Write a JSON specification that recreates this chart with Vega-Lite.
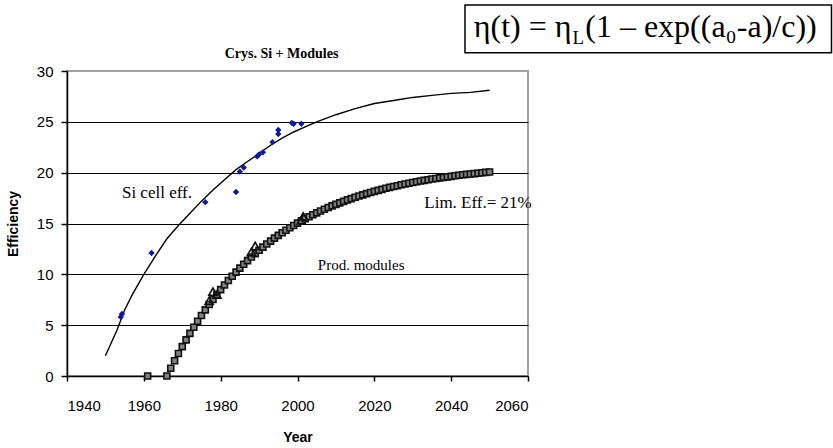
{
  "$schema": "https://vega.github.io/schema/vega-lite/v6.json",
  "width": 461,
  "height": 305,
  "autosize": {"type": "none"},
  "padding": {"left": 67, "top": 71, "right": 305, "bottom": 72},
  "background": "white",
  "config": {"view": {"stroke": "#a0a0a0", "strokeWidth": 2}, "font": "Liberation Sans"},
  "title": {"text": "Crys. Si + Modules", "font": "Liberation Serif", "fontSize": 14, "fontWeight": "bold", "color": "black", "offset": -56.5, "dx": -16},
  "datasets": {
    "main": [
      {"series": "fit", "year": 1950, "eff": 2.0},
      {"series": "fit", "year": 1953, "eff": 4.5},
      {"series": "fit", "year": 1955, "eff": 6.5},
      {"series": "fit", "year": 1957, "eff": 8.0},
      {"series": "fit", "year": 1960, "eff": 10.0},
      {"series": "fit", "year": 1963, "eff": 11.8},
      {"series": "fit", "year": 1966, "eff": 13.5},
      {"series": "fit", "year": 1969, "eff": 14.8},
      {"series": "fit", "year": 1972, "eff": 16.0},
      {"series": "fit", "year": 1975, "eff": 17.2},
      {"series": "fit", "year": 1978, "eff": 18.3},
      {"series": "fit", "year": 1981, "eff": 19.3},
      {"series": "fit", "year": 1984, "eff": 20.3},
      {"series": "fit", "year": 1987, "eff": 21.1},
      {"series": "fit", "year": 1990, "eff": 21.9},
      {"series": "fit", "year": 1993, "eff": 22.7},
      {"series": "fit", "year": 1996, "eff": 23.4},
      {"series": "fit", "year": 1999, "eff": 24.0},
      {"series": "fit", "year": 2002, "eff": 24.5},
      {"series": "fit", "year": 2005, "eff": 25.0},
      {"series": "fit", "year": 2010, "eff": 25.7},
      {"series": "fit", "year": 2015, "eff": 26.3},
      {"series": "fit", "year": 2020, "eff": 26.8},
      {"series": "fit", "year": 2025, "eff": 27.1},
      {"series": "fit", "year": 2030, "eff": 27.4},
      {"series": "fit", "year": 2035, "eff": 27.6},
      {"series": "fit", "year": 2040, "eff": 27.8},
      {"series": "fit", "year": 2045, "eff": 27.9},
      {"series": "fit", "year": 2050, "eff": 28.1},
      {"series": "cell", "year": 1954, "eff": 5.8},
      {"series": "cell", "year": 1954.3, "eff": 6.1},
      {"series": "cell", "year": 1962, "eff": 12.1},
      {"series": "cell", "year": 1976, "eff": 17.1},
      {"series": "cell", "year": 1984, "eff": 18.1},
      {"series": "cell", "year": 1985, "eff": 20.1},
      {"series": "cell", "year": 1986, "eff": 20.5},
      {"series": "cell", "year": 1989.5, "eff": 21.6},
      {"series": "cell", "year": 1990, "eff": 21.8},
      {"series": "cell", "year": 1991, "eff": 22.0},
      {"series": "cell", "year": 1993.5, "eff": 23.0},
      {"series": "cell", "year": 1995, "eff": 23.8},
      {"series": "cell", "year": 1995, "eff": 24.2},
      {"series": "cell", "year": 1998.5, "eff": 24.9},
      {"series": "cell", "year": 1999, "eff": 24.8},
      {"series": "cell", "year": 2001, "eff": 24.8},
      {"series": "mod", "year": 1961, "eff": 0},
      {"series": "mod", "year": 1966, "eff": 0},
      {"series": "mod", "year": 1967, "eff": 0.76},
      {"series": "mod", "year": 1968, "eff": 1.50},
      {"series": "mod", "year": 1969, "eff": 2.21},
      {"series": "mod", "year": 1970, "eff": 2.89},
      {"series": "mod", "year": 1971, "eff": 3.55},
      {"series": "mod", "year": 1972, "eff": 4.19},
      {"series": "mod", "year": 1973, "eff": 4.80},
      {"series": "mod", "year": 1974, "eff": 5.39},
      {"series": "mod", "year": 1975, "eff": 5.95},
      {"series": "mod", "year": 1976, "eff": 6.50},
      {"series": "mod", "year": 1977, "eff": 7.03},
      {"series": "mod", "year": 1978, "eff": 7.53},
      {"series": "mod", "year": 1979, "eff": 8.02},
      {"series": "mod", "year": 1980, "eff": 8.50},
      {"series": "mod", "year": 1981, "eff": 8.95},
      {"series": "mod", "year": 1982, "eff": 9.39},
      {"series": "mod", "year": 1983, "eff": 9.81},
      {"series": "mod", "year": 1984, "eff": 10.22},
      {"series": "mod", "year": 1985, "eff": 10.61},
      {"series": "mod", "year": 1986, "eff": 10.99},
      {"series": "mod", "year": 1987, "eff": 11.35},
      {"series": "mod", "year": 1988, "eff": 11.70},
      {"series": "mod", "year": 1989, "eff": 12.04},
      {"series": "mod", "year": 1990, "eff": 12.37},
      {"series": "mod", "year": 1991, "eff": 12.68},
      {"series": "mod", "year": 1992, "eff": 12.98},
      {"series": "mod", "year": 1993, "eff": 13.27},
      {"series": "mod", "year": 1994, "eff": 13.56},
      {"series": "mod", "year": 1995, "eff": 13.83},
      {"series": "mod", "year": 1996, "eff": 14.09},
      {"series": "mod", "year": 1997, "eff": 14.34},
      {"series": "mod", "year": 1998, "eff": 14.58},
      {"series": "mod", "year": 1999, "eff": 14.81},
      {"series": "mod", "year": 2000, "eff": 15.04},
      {"series": "mod", "year": 2001, "eff": 15.26},
      {"series": "mod", "year": 2002, "eff": 15.46},
      {"series": "mod", "year": 2003, "eff": 15.67},
      {"series": "mod", "year": 2004, "eff": 15.86},
      {"series": "mod", "year": 2005, "eff": 16.05},
      {"series": "mod", "year": 2006, "eff": 16.23},
      {"series": "mod", "year": 2007, "eff": 16.40},
      {"series": "mod", "year": 2008, "eff": 16.57},
      {"series": "mod", "year": 2009, "eff": 16.73},
      {"series": "mod", "year": 2010, "eff": 16.88},
      {"series": "mod", "year": 2011, "eff": 17.03},
      {"series": "mod", "year": 2012, "eff": 17.18},
      {"series": "mod", "year": 2013, "eff": 17.32},
      {"series": "mod", "year": 2014, "eff": 17.45},
      {"series": "mod", "year": 2015, "eff": 17.58},
      {"series": "mod", "year": 2016, "eff": 17.70},
      {"series": "mod", "year": 2017, "eff": 17.82},
      {"series": "mod", "year": 2018, "eff": 17.94},
      {"series": "mod", "year": 2019, "eff": 18.05},
      {"series": "mod", "year": 2020, "eff": 18.16},
      {"series": "mod", "year": 2021, "eff": 18.26},
      {"series": "mod", "year": 2022, "eff": 18.36},
      {"series": "mod", "year": 2023, "eff": 18.46},
      {"series": "mod", "year": 2024, "eff": 18.55},
      {"series": "mod", "year": 2025, "eff": 18.64},
      {"series": "mod", "year": 2026, "eff": 18.72},
      {"series": "mod", "year": 2027, "eff": 18.81},
      {"series": "mod", "year": 2028, "eff": 18.89},
      {"series": "mod", "year": 2029, "eff": 18.96},
      {"series": "mod", "year": 2030, "eff": 19.04},
      {"series": "mod", "year": 2031, "eff": 19.11},
      {"series": "mod", "year": 2032, "eff": 19.18},
      {"series": "mod", "year": 2033, "eff": 19.24},
      {"series": "mod", "year": 2034, "eff": 19.31},
      {"series": "mod", "year": 2035, "eff": 19.37},
      {"series": "mod", "year": 2036, "eff": 19.43},
      {"series": "mod", "year": 2037, "eff": 19.49},
      {"series": "mod", "year": 2038, "eff": 19.54},
      {"series": "mod", "year": 2039, "eff": 19.59},
      {"series": "mod", "year": 2040, "eff": 19.64},
      {"series": "mod", "year": 2041, "eff": 19.69},
      {"series": "mod", "year": 2042, "eff": 19.74},
      {"series": "mod", "year": 2043, "eff": 19.79},
      {"series": "mod", "year": 2044, "eff": 19.83},
      {"series": "mod", "year": 2045, "eff": 19.87},
      {"series": "mod", "year": 2046, "eff": 19.91},
      {"series": "mod", "year": 2047, "eff": 19.95},
      {"series": "mod", "year": 2048, "eff": 19.99},
      {"series": "mod", "year": 2049, "eff": 20.03},
      {"series": "mod", "year": 2050, "eff": 20.06},
      {"series": "meas", "year": 1977, "eff": 7.4},
      {"series": "meas", "year": 1978, "eff": 8.3},
      {"series": "meas", "year": 1979, "eff": 8.0},
      {"series": "meas", "year": 1988, "eff": 12.2},
      {"series": "meas", "year": 1989, "eff": 12.8},
      {"series": "meas", "year": 2001, "eff": 15.3},
      {"series": "meas", "year": 2001.5, "eff": 15.7}
    ]
  },
  "layer": [
    {
      "data": {"name": "main"},
      "transform": [{"filter": "datum.series === 'fit'"}],
      "mark": {"type": "line", "color": "black", "strokeWidth": 1.4},
      "encoding": {
        "x": {
          "field": "year", "type": "quantitative",
          "scale": {"domain": [1940, 2060], "nice": false, "zero": false},
          "axis": {
            "values": [1940, 1960, 1980, 2000, 2020, 2040, 2060], "format": "d",
            "grid": false, "domainColor": "black", "domainWidth": 1.5, "tickColor": "black", "tickWidth": 1.5, "tickSize": 5,
            "labelFontSize": 15, "labelColor": "black", "labelPadding": 17, "labelFont": "Liberation Sans",
            "title": "Year", "titleFontSize": 14, "titleFontWeight": "bold", "titleColor": "black", "titlePadding": 17, "titleFont": "Liberation Sans"
          }
        },
        "y": {
          "field": "eff", "type": "quantitative",
          "scale": {"domain": [0, 30], "nice": false},
          "axis": {
            "values": [0, 5, 10, 15, 20, 25, 30],
            "grid": true, "gridColor": {"condition": {"test": "datum.value === 30 || datum.value === 0", "value": "#a0a0a0"}, "value": "black"}, "gridWidth": 1.2, "gridOpacity": 1,
            "domainColor": "black", "domainWidth": 1.5, "tickColor": "black", "tickWidth": 1.5, "tickSize": 6,
            "labelFontSize": 15, "labelColor": "black", "labelPadding": 8, "labelFont": "Liberation Sans",
            "title": "Efficiency", "titleFontSize": 14, "titleFontWeight": "bold", "titleColor": "black", "titlePadding": 16, "titleFont": "Liberation Sans"
          }
        }
      }
    },
    {
      "data": {"name": "main"},
      "transform": [{"filter": "datum.series === 'cell'"}],
      "mark": {"type": "point", "shape": "diamond", "filled": true, "color": "#0a1a9a", "size": 40, "opacity": 1},
      "encoding": {"x": {"field": "year", "type": "quantitative"}, "y": {"field": "eff", "type": "quantitative"}}
    },
    {
      "data": {"name": "main"},
      "transform": [{"filter": "datum.series === 'mod'"}],
      "mark": {"type": "point", "shape": "square", "filled": true, "fill": "#808080", "stroke": "#111", "strokeWidth": 1.6, "size": 36, "opacity": 1},
      "encoding": {"x": {"field": "year", "type": "quantitative"}, "y": {"field": "eff", "type": "quantitative"}}
    },
    {
      "data": {"name": "main"},
      "transform": [{"filter": "datum.series === 'meas'"}],
      "mark": {"type": "point", "shape": "triangle-up", "filled": false, "stroke": "#111", "strokeWidth": 1.6, "size": 70, "opacity": 1},
      "encoding": {"x": {"field": "year", "type": "quantitative"}, "y": {"field": "eff", "type": "quantitative"}}
    },
    {
      "data": {"values": [{"label": "Si cell eff."}]},
      "mark": {"type": "text", "align": "left", "baseline": "alphabetic", "font": "Liberation Serif", "fontSize": 17, "color": "black"},
      "encoding": {"x": {"datum": 1954.3, "type": "quantitative"}, "y": {"datum": 17.5, "type": "quantitative"}, "text": {"field": "label", "type": "nominal"}}
    },
    {
      "data": {"values": [{"label": "Prod. modules"}]},
      "mark": {"type": "text", "align": "left", "baseline": "alphabetic", "font": "Liberation Serif", "fontSize": 15, "color": "black"},
      "encoding": {"x": {"datum": 2005.3, "type": "quantitative"}, "y": {"datum": 10.4, "type": "quantitative"}, "text": {"field": "label", "type": "nominal"}}
    },
    {
      "data": {"values": [{"label": "Lim. Eff.= 21%"}]},
      "mark": {"type": "text", "align": "left", "baseline": "alphabetic", "font": "Liberation Serif", "fontSize": 17, "color": "black"},
      "encoding": {"x": {"datum": 2033, "type": "quantitative"}, "y": {"datum": 16.5, "type": "quantitative"}, "text": {"field": "label", "type": "nominal"}}
    },
    {
      "data": {"values": [{"label": "formula"}]},
      "mark": {"type": "rect", "fill": "white", "stroke": "black", "strokeWidth": 1.5},
      "encoding": {"x": {"datum": 2043.6, "type": "quantitative"}, "x2": {"datum": 2139.0}, "y": {"datum": 36.5, "type": "quantitative"}, "y2": {"datum": 31.8}}
    },
    {
      "data": {"values": [{"label": "η(t) = η"}]},
      "mark": {"type": "text", "align": "left", "baseline": "alphabetic", "font": "Liberation Serif", "fontSize": 32, "color": "black"},
      "encoding": {"x": {"datum": 2045.9, "type": "quantitative"}, "y": {"datum": 33.3, "type": "quantitative"}, "text": {"field": "label", "type": "nominal"}}
    },
    {
      "data": {"values": [{"label": "L"}]},
      "mark": {"type": "text", "align": "left", "baseline": "alphabetic", "font": "Liberation Serif", "fontSize": 19, "color": "black"},
      "encoding": {"x": {"datum": 2071.6, "type": "quantitative"}, "y": {"datum": 32.65, "type": "quantitative"}, "text": {"field": "label", "type": "nominal"}}
    },
    {
      "data": {"values": [{"label": "(1 – exp((a₀-a)/c))"}]},
      "mark": {"type": "text", "align": "left", "baseline": "alphabetic", "font": "Liberation Serif", "fontSize": 32, "color": "black"},
      "encoding": {"x": {"datum": 2074.9, "type": "quantitative"}, "y": {"datum": 33.3, "type": "quantitative"}, "text": {"field": "label", "type": "nominal"}}
    }
  ]
}
